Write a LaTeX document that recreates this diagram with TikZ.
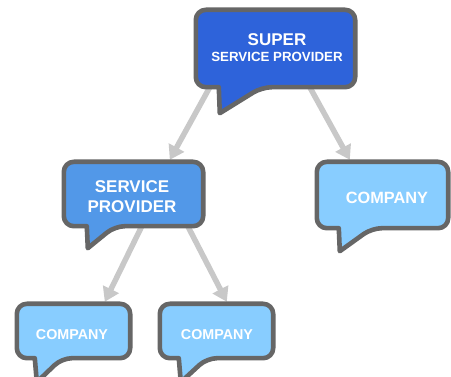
\documentclass[tikz,border=0pt]{standalone}
\usepackage{fontspec}
\setmainfont{Liberation Sans}
\usetikzlibrary{arrows.meta,calc}
\pgfdeclarelayer{arrowlayer}
\pgfdeclarelayer{bubblelayer}
\pgfsetlayers{arrowlayer,bubblelayer,main}
\definecolor{supblue}{RGB}{46,99,218}
\definecolor{spblue}{RGB}{82,152,232}
\definecolor{coblue}{RGB}{136,205,255}
\definecolor{rim}{RGB}{102,102,102}
\definecolor{linkgray}{RGB}{200,200,200}
% #1 node name, #2 fill colour, #3 tail left offset, #4 tail right offset, #5 tip offset
\newcommand\speechbubble[5]{%
  \begin{pgfonlayer}{bubblelayer}
    \filldraw[bubbleshape, fill=#2] [rounded corners=10pt]
      ($(#1.south west)+(#3,0)$) -- (#1.south west) -- (#1.north west)
      -- (#1.north east) -- (#1.south east) -- ($(#1.south west)+(#4,0)$)
      [sharp corners] -- ($(#1.south west)+#5$) -- cycle;
  \end{pgfonlayer}}
\begin{document}
\begin{tikzpicture}[x=1pt,y=-1pt,
  bubblebox/.style={draw=none, inner sep=0pt, minimum width=#1},
  bubbleshape/.style={draw=rim, line width=4.6pt, line join=round},
  txt/.style={text=white, font=\bfseries, align=center, inner sep=0pt},
  linkarrow/.style={draw=linkgray, line width=5.5pt, -{Triangle[width=17pt,length=14pt]}}]
\useasboundingbox (0,0) rectangle (451,377);

% boxes
\node[bubblebox=159pt, minimum height=77pt] (sup) at (275.5,48.5) {};
\node[bubblebox=139pt, minimum height=64pt] (sp) at (133.5,194) {};
\node[bubblebox=131pt, minimum height=66pt] (cr) at (382.5,195) {};
\node[bubblebox=113pt, minimum height=54pt] (bl) at (73.5,331) {};
\node[bubblebox=113pt, minimum height=54pt] (br) at (216.5,331) {};

\speechbubble{sup}{supblue}{23}{66}{(24,26)}
\speechbubble{sp}{spblue}{23}{51}{(24,22)}
\speechbubble{cr}{coblue}{22}{55}{(23,23)}
\speechbubble{bl}{coblue}{18}{45}{(20,24)}
\speechbubble{br}{coblue}{19}{47}{(21,24)}

% texts
\node[txt, font=\bfseries\fontsize{17}{17}\selectfont] (supt) at (277,40) {SUPER};
\node[txt, font=\bfseries\fontsize{13.3}{16}\selectfont] (supt2) at (277,57) {SERVICE PROVIDER};
\node[txt, font=\bfseries\fontsize{17}{20}\selectfont] (spt) at (132,197) {SERVICE\\PROVIDER};
\node[txt, font=\bfseries\fontsize{16.3}{18}\selectfont] (crt) at (387,198) {COMPANY};
\node[txt, font=\bfseries\fontsize{14.3}{16}\selectfont] (blt) at (72,335) {COMPANY};
\node[txt, font=\bfseries\fontsize{14.3}{16}\selectfont] (brt) at (217,335) {COMPANY};

% connectors
\begin{pgfonlayer}{arrowlayer}
\draw[linkarrow] ([xshift=14pt]sup.south west) -- ([xshift=106pt,yshift=2pt]sp.north west);
\draw[linkarrow] ([xshift=114pt]sup.south west) -- ([xshift=33pt,yshift=2pt]cr.north west);
\draw[linkarrow] ([xshift=78pt]sp.south west) -- ([xshift=88pt,yshift=2pt]bl.north west);
\draw[linkarrow] ([xshift=124pt]sp.south west) -- ([xshift=67pt,yshift=2pt]br.north west);
\end{pgfonlayer}
\end{tikzpicture}
\end{document}
